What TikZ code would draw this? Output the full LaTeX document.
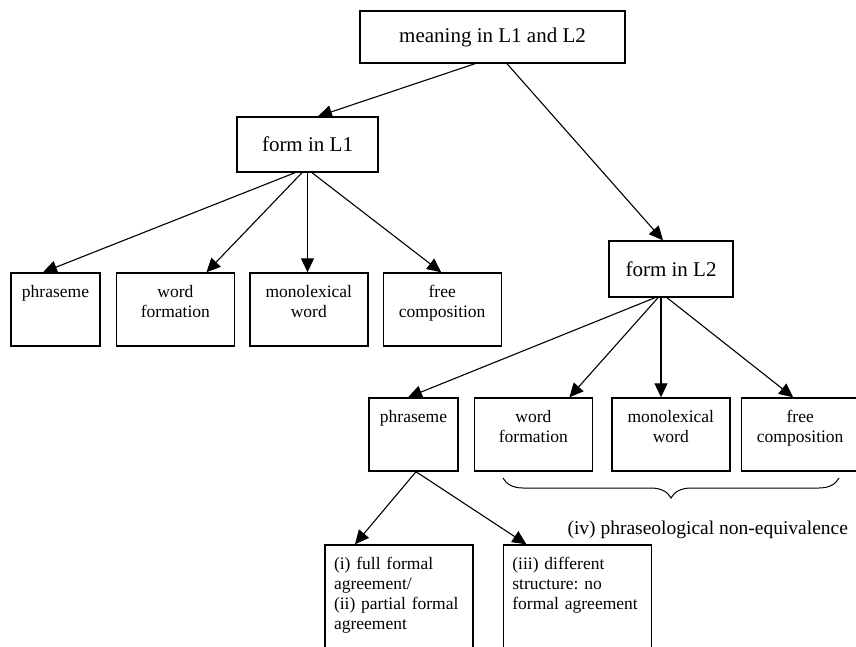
\documentclass[tikz,border=0pt]{standalone}
\usepackage{fontspec}
\setmainfont{Liberation Serif}
\frenchspacing
\usetikzlibrary{arrows.meta, positioning, decorations.pathreplacing}

\begin{document}
\begin{tikzpicture}[
  x=1pt, y=1pt,
  every node/.style={font=\fontsize{17.5}{20}\selectfont},
  head/.style={draw, line width=1.4pt, font=\fontsize{21}{25}\selectfont},
  cell/.style={draw, line width=1.4pt, minimum width=118pt, minimum height=73pt},
  narrow/.style={cell, minimum width=89pt},
  tall/.style={draw, line width=1.4pt, minimum width=148pt, minimum height=130pt},
  caption/.style={anchor=north, align=center, inner sep=0pt, yshift=-13pt},
  para/.style={caption, align=left, text width=130pt},
  arrow/.style={-{Triangle[length=14pt,width=13pt]}, line width=1.1pt}
]
\useasboundingbox (0,0) rectangle (856,-646);
\clip (0,0) rectangle (856,-646);

% Meaning and the two forms
\node[head, minimum width=265pt, minimum height=52pt] (meaning) at (492.5,-37) {meaning in L1 and L2};
\node[head, minimum width=141pt, minimum height=55pt] (formA) at (307.5,-144.5) {form in L1};
\node[head, minimum width=124pt, minimum height=56pt] (formB) at (671,-269) {form in L2};

% Row under form in L1
\node[narrow, label={[caption]north:phraseme}] (phrA) at (55.5,-309.5) {};
\node[cell, right=15pt of phrA, label={[caption]north:word\\formation}] (wordA) {};
\node[cell, right=14pt of wordA, label={[caption]north:monolexical\\word}] (monoA) {};
\node[cell, right=14pt of monoA, label={[caption]north:free\\composition}] (freeA) {};

% Row under form in L2
\node[narrow, label={[caption]north:phraseme}] (phrB) at (413.5,-434.5) {};
\node[cell, right=15pt of phrB, label={[caption]north:word\\formation}] (wordB) {};
\node[cell, right=18pt of wordB, label={[caption]north:monolexical\\word}] (monoB) {};
\node[cell, right=10pt of monoB, minimum width=122pt, label={[caption, xshift=-2pt]north:free\\composition}] (freeB) {};

% Phraseme types
\node[tall, label={[para]north:{(i) full formal\\agreement/\\(ii) partial formal\\agreement}}] (fullA) at (399,-610) {};
\node[tall, right=29pt of fullA, label={[para]north:{(iii) different\\structure: no\\formal agreement}}] (diffB) {};

% Arrows
\draw[arrow] ([xshift=-17.5pt]meaning.south) -- ([xshift=10.5pt]formA.north);
\draw[arrow] ([xshift=14.5pt]meaning.south) -- ([xshift=-8pt]formB.north);

\draw[arrow] ([xshift=-12.5pt]formA.south) -- ([xshift=-12.5pt]phrA.north);
\draw[arrow] ([xshift=-5.5pt]formA.south) -- ([xshift=31pt]wordA.north);
\draw[arrow] (formA.south) -- (formA.south |- monoA.north);
\draw[arrow] ([xshift=4.5pt]formA.south) -- ([xshift=-1pt]freeA.north);

\draw[arrow] ([xshift=-16pt]formB.south) -- ([xshift=-5.5pt]phrB.north);
\draw[arrow] ([xshift=-13pt]formB.south) -- ([xshift=36pt]wordB.north);
\draw[arrow] ([xshift=-10pt]formB.south) -- ([xshift=-10pt]formB.south |- monoB.north);
\draw[arrow] ([xshift=-4pt]formB.south) -- ([xshift=-9pt]freeB.north);

\draw[arrow] ([xshift=2.5pt]phrB.south) -- ([xshift=-44pt]fullA.north);
\draw[arrow] ([xshift=2.5pt]phrB.south) -- ([xshift=-51pt]diffB.north);

% Non-equivalence brace
\coordinate (braceL) at (503,-478);
\coordinate (braceR) at (839,-478);
\draw[line width=1pt, decorate, decoration={brace, mirror, amplitude=20pt}] (braceL) -- (braceR);
\node[anchor=west, font=\fontsize{19.5}{22}\selectfont] (noneq) at (564,-530) {(iv) phraseological non-equivalence};
\end{tikzpicture}
\end{document}
